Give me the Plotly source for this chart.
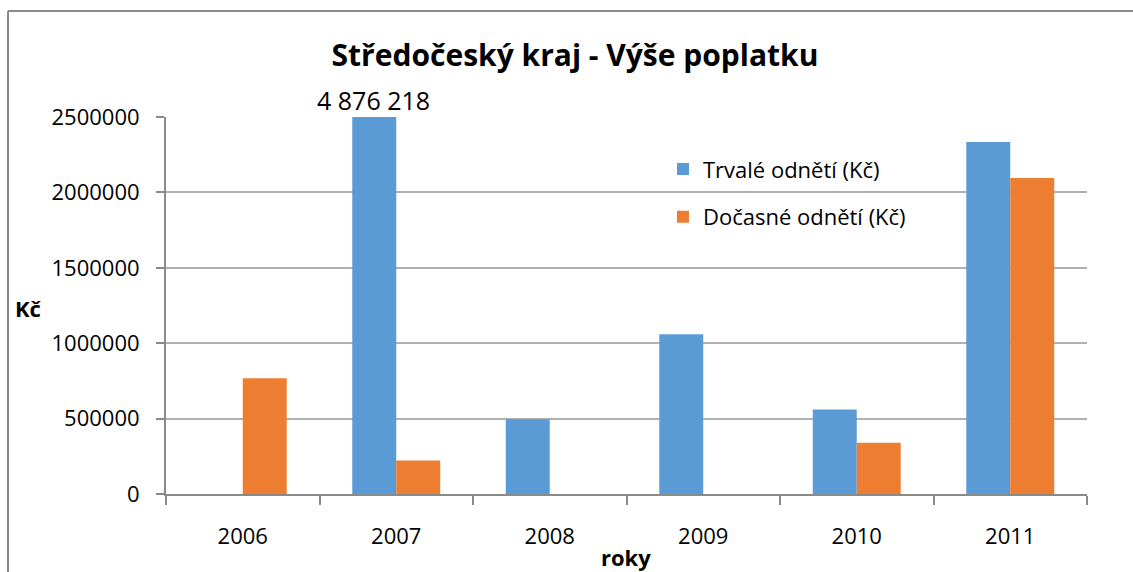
import plotly.graph_objects as go

years = ["2006", "2007", "2008", "2009", "2010", "2011"]
trvale = [0, 4876218, 495000, 1060000, 560000, 2335000]
docasne = [767000, 222000, 0, 0, 340000, 2095000]
series_names = ["Trvalé odnětí (Kč)", "Dočasné odnětí (Kč)"]
y_ticks = [0, 500000, 1000000, 1500000, 2000000, 2500000]
y_max = 2500000

FONT = "Open Sans"
BLUE = "#5B9BD5"
ORANGE = "#ED7D31"

# body margin is removed in the page (post_script), so figure px == page px
L, T = 166, 117
R = 1133 - 1087
B = 572 - 494
PW, PH = 1087 - 166, 494 - 117

fig = go.Figure()
fig.add_trace(go.Bar(x=years, y=trvale, name=series_names[0], marker_color=BLUE,
                     legendgroup="a", marker_line_width=0))
fig.add_trace(go.Bar(x=years, y=docasne, name=series_names[1], marker_color=ORANGE,
                     legendgroup="b", marker_line_width=0))

# label for the clipped bar
for i, (yr, v) in enumerate(zip(years, trvale)):
    if v > y_max:
        fig.add_annotation(x=i, y=y_max, xref="x", yref="y", xshift=-23,
                           text=f"{v:,}".replace(",", " "), showarrow=False,
                           yanchor="bottom", yshift=-2,
                           font=dict(family=FONT, size=25, color="#000"))

# axis titles (horizontal, as in the reference)
fig.add_annotation(x=(13 - 166) / PW, y=(494 - 308) / PH, xref="paper", yref="paper",
                   text="<b>Kč</b>", showarrow=False, xanchor="left", yanchor="middle",
                   font=dict(family=FONT, size=22, color="#000"))
fig.add_annotation(x=(626 - 166) / PW, y=(494 - 557) / PH, xref="paper", yref="paper",
                   text="<b>roky</b>", showarrow=False, xanchor="center", yanchor="middle",
                   font=dict(family=FONT, size=22, color="#000"))

# chart frame (top and left edges visible)
frame = dict(type="line", xref="paper", yref="paper",
             line=dict(color="#8a8a8a", width=2))
fx0 = (8 - 166) / PW
fy0 = (494 - 11) / PH
fig.add_shape(**frame, x0=fx0, x1=1.1, y0=fy0, y1=fy0)
fig.add_shape(**frame, x0=fx0, x1=fx0, y0=fy0, y1=-0.3)

fig.update_layout(
    width=1133, height=572,
    margin=dict(l=L, r=R, t=T, b=B, autoexpand=False),
    plot_bgcolor="white", paper_bgcolor="white",
    barmode="group", bargap=0.427, bargroupgap=0,
    font=dict(family=FONT, size=21, color="#000"),
    title=dict(text="<b>Středočeský kraj - Výše poplatku</b>",
               x=575 / 1133, xanchor="center",
               y=1 - 55 / 572, yanchor="middle",
               font=dict(family=FONT, size=30, color="#000")),
    legend=dict(x=0.5396, y=0.917, xanchor="left", yanchor="top",
                traceorder="grouped", tracegroupgap=16,
                font=dict(family=FONT, size=22, color="#000"),
                bgcolor="rgba(0,0,0,0)"),
    xaxis=dict(type="category", range=[-0.5, len(years) - 0.5], automargin=False,
               showline=True, linecolor="#8a8a8a", linewidth=2,
               ticks="outside", tickson="boundaries", ticklen=9, tickcolor="#8a8a8a",
               tickwidth=1.5, showgrid=False, tickangle=0, ticklabelstandoff=22,
               tickfont=dict(family=FONT, size=22, color="#000")),
    yaxis=dict(range=[0, y_max], tickvals=y_ticks, ticktext=[str(t) for t in y_ticks],
               automargin=False,
               showline=True, linecolor="#8a8a8a", linewidth=2,
               ticks="outside", ticklen=8, tickcolor="#8a8a8a", tickwidth=1.5,
               showgrid=True, gridcolor="#b0b0b0", gridwidth=1.5, zeroline=False,
               ticklabelstandoff=12,
               tickfont=dict(family=FONT, size=22, color="#000")),
)

fig.write_html("out.html", config={"displayModeBar": False},
               post_script="document.body.style.margin='0';document.body.style.overflow='hidden';")
